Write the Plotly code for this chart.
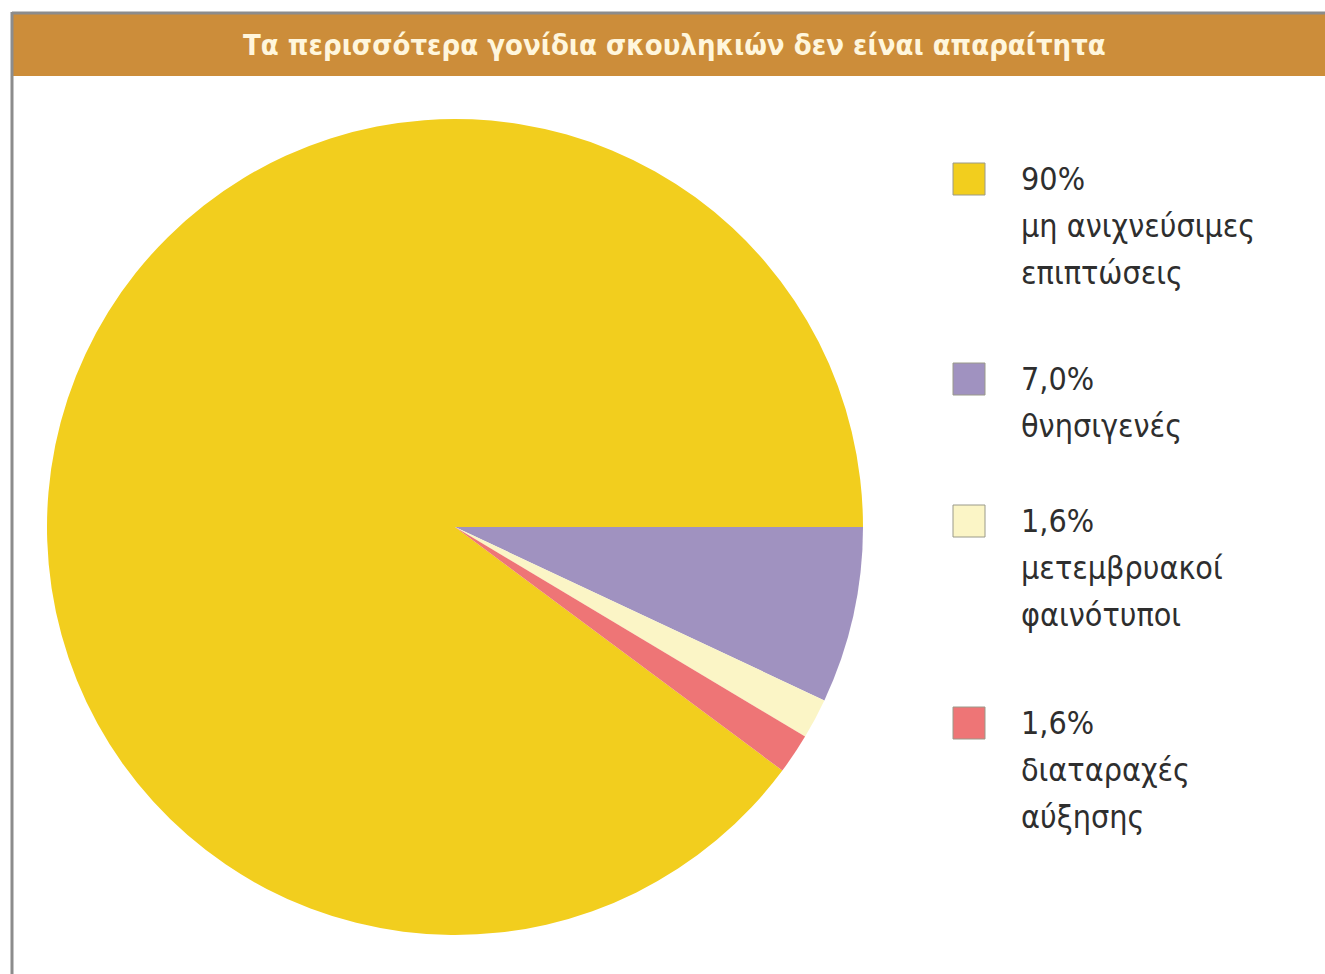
import plotly.graph_objects as go

# Share of worm genes by knock-out outcome
values = [90, 7.0, 1.6, 1.6]
pct_labels = ["90%", "7,0%", "1,6%", "1,6%"]
descriptions = [
    ["μη ανιχνεύσιμες", "επιπτώσεις"],
    ["θνησιγενές"],
    ["μετεμβρυακοί", "φαινότυποι"],
    ["διαταραχές", "αύξησης"],
]
colors = ["#F2CE1E", "#A092C0", "#FBF5C6", "#EE7576"]
title_text = "Τα περισσότερα γονίδια σκουληκιών δεν είναι απαραίτητα"

W, H = 1325, 974
FONT = "Liberation Sans Narrow, DejaVu Sans Condensed, Arial Narrow, sans-serif"

# pie geometry in pixels
cx, cy, r = 455, 527, 408

# first slice ends at 3 o'clock, slices run clockwise
rotation = 90 - 360 * values[0] / sum(values)

# unique slice names (two slices share the same percentage)
slice_names = [" ".join(d) for d in descriptions]

fig = go.Figure(
    go.Pie(
        values=values,
        labels=slice_names,
        customdata=pct_labels,
        marker=dict(colors=colors, line=dict(width=0)),
        sort=False,
        direction="clockwise",
        rotation=rotation,
        textinfo="none",
        hovertemplate="%{customdata}<br>%{label}<extra></extra>",
        showlegend=False,
        domain=dict(
            x=[(cx - r) / W, (cx + r) / W],
            y=[1 - (cy + r) / H, 1 - (cy - r) / H],
        ),
    )
)

def px(x):
    return x / W

def py(y):
    return 1 - y / H

shapes = [
    # header bar
    dict(type="rect", xref="paper", yref="paper",
         x0=px(13), x1=px(W + 5), y0=py(76), y1=py(14),
         fillcolor="#CC8D3A", line=dict(width=0), layer="below"),
    # frame lines
    dict(type="line", xref="paper", yref="paper",
         x0=px(12), x1=px(W + 5), y0=py(13), y1=py(13),
         line=dict(color="#8C8C8C", width=3)),
    dict(type="line", xref="paper", yref="paper",
         x0=px(12), x1=px(12), y0=py(12), y1=py(H + 5),
         line=dict(color="#8C8C8C", width=3)),
]

annotations = [
    dict(text="<b>" + title_text + "</b>", xref="paper", yref="paper",
         x=px(674), y=py(45), xanchor="center", yanchor="middle",
         showarrow=False, font=dict(family=FONT, size=29, color="#FFF6DC")),
]

# legend rows: top of each swatch
item_tops = [163, 363, 505, 707]
line_pitch = 47
for i, top in enumerate(item_tops):
    shapes.append(dict(type="rect", xref="paper", yref="paper",
                       x0=px(953), x1=px(985), y0=py(top + 32), y1=py(top),
                       fillcolor=colors[i], line=dict(color="#9A9A8A", width=1)))
    lines = [pct_labels[i]] + descriptions[i]
    for j, t in enumerate(lines):
        annotations.append(dict(
            text=t, xref="paper", yref="paper",
            x=px(1019), y=py(top + 16 + j * line_pitch),
            xanchor="left", yanchor="middle", showarrow=False,
            font=dict(family=FONT, size=32, color="#2E2E2E")))

fig.update_layout(
    width=W, height=H,
    margin=dict(l=0, r=0, t=0, b=0),
    paper_bgcolor="white", plot_bgcolor="white",
    shapes=shapes, annotations=annotations,
)

fig.write_html("out.html")
